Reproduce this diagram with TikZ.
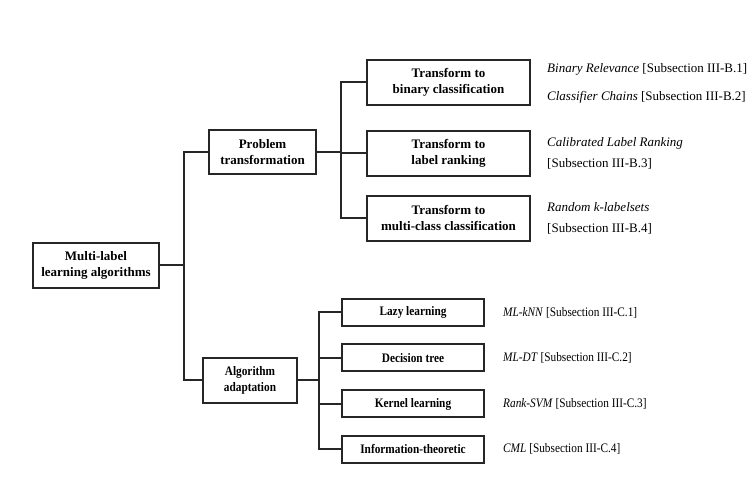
\documentclass[tikz,border=0pt]{standalone}
\usepackage{fontspec}
\setmainfont{Liberation Serif}
\newfontfamily\condserif[FakeStretch=0.87]{Liberation Serif}
\begin{document}
\begin{tikzpicture}[x=1pt,y=-1pt,
  box/.style={draw=black!85,line width=2pt,inner sep=0pt,align=center,font=\fontsize{13}{16}\selectfont\bfseries},
  sbox/.style={box,font=\condserif\fontsize{13}{16}\selectfont\bfseries},
  conn/.style={draw=black!85,line width=2pt},
  ref/.style={anchor=west,inner sep=0pt,font=\fontsize{13}{16}\selectfont},
  sref/.style={ref,font=\condserif\fontsize{13}{16}\selectfont}]
\useasboundingbox (0,0) rectangle (756,489);
\node[box,minimum width=126pt,minimum height=45pt] (root) at (96,265.5) {Multi-label\\learning algorithms};
\node[box,minimum width=107pt,minimum height=44pt] (prob) at (262.5,152) {Problem\\transformation};
\node[sbox,minimum width=94pt,minimum height=45pt] (alg) at (250,380.5) {Algorithm\\adaptation};
\node[box,minimum width=163pt,minimum height=45pt] (t1) at (448.5,82.5) {Transform to\\binary classification};
\node[box,minimum width=163pt,minimum height=45pt] (t2) at (448.5,153.5) {Transform to\\label ranking};
\node[box,minimum width=163pt,minimum height=45pt] (t3) at (448.5,218.5) {Transform to\\multi-class classification};
\node[sbox,minimum width=142pt,minimum height=27pt] (a1) at (413,312.5) {Lazy learning};
\node[sbox,minimum width=142pt,minimum height=27pt] (a2) at (413,358) {Decision tree};
\node[sbox,minimum width=142pt,minimum height=27pt] (a3) at (413,404) {Kernel learning};
\node[sbox,minimum width=142pt,minimum height=27pt] (a4) at (413,449) {Information-theoretic};
\coordinate (j1) at (184,265.5);
\coordinate (j2) at (341,152);
\coordinate (j3) at (319,380.5);
\draw[conn] (root.east) -- (j1);
\draw[conn] (j1) |- (prob.west);
\draw[conn] (j1) |- (alg.west);
\draw[conn] (prob.east) -- (j2);
\draw[conn] (j2) |- (t1.west);
\draw[conn] (j2) |- (t2.west);
\draw[conn] (j2) |- (t3.west);
\draw[conn] (alg.east) -- (j3);
\draw[conn] (j3) |- (a1.west);
\draw[conn] (j3) |- (a2.west);
\draw[conn] (j3) |- (a3.west);
\draw[conn] (j3) |- (a4.west);
\node[ref] (r1) at (547,69) {\textit{Binary Relevance} [Subsection III-B.1]};
\node[ref] (r2) at (547,97) {\textit{Classifier Chains} [Subsection III-B.2]};
\node[ref] (r3) at (547,143) {\textit{Calibrated Label Ranking}};
\node[ref] (r4) at (547,164) {[Subsection III-B.3]};
\node[ref] (r5) at (547,207) {\textit{Random k-labelsets}};
\node[ref] (r6) at (547,229) {[Subsection III-B.4]};
\node[sref] (r7) at (503,313) {\textit{ML-kNN} [Subsection III-C.1]};
\node[sref] (r8) at (503,358) {\textit{ML-DT} [Subsection III-C.2]};
\node[sref] (r9) at (503,404) {\textit{Rank-SVM} [Subsection III-C.3]};
\node[sref] (r10) at (503,449) {\textit{CML} [Subsection III-C.4]};
\end{tikzpicture}
\end{document}
